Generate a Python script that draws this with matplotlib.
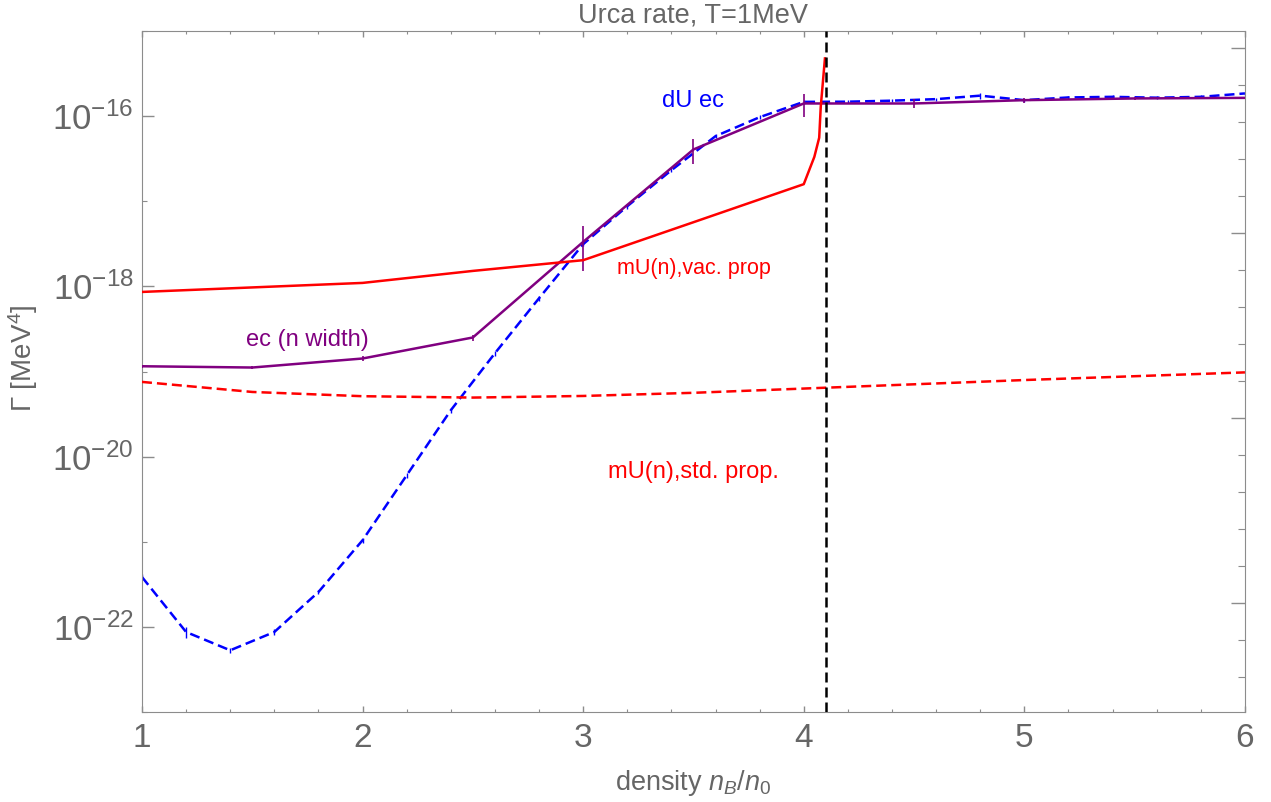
import matplotlib.pyplot as plt
import matplotlib.ticker as ticker
import numpy as np

plt.rcParams['font.family'] = ['Liberation Sans', 'DejaVu Sans']
plt.rcParams['mathtext.fontset'] = 'custom'
plt.rcParams['mathtext.rm'] = 'Liberation Sans'
plt.rcParams['mathtext.it'] = 'Liberation Sans:italic'
plt.rcParams['mathtext.bf'] = 'Liberation Sans:bold'

# log10 of the rates
x_ec = [1, 1.5, 2, 2.5, 3, 3.5, 4, 4.5, 5, 5.5, 6]
log_ec = [-18.938, -18.953, -18.847, -18.600, -17.477, -16.391, -15.851, -15.851, -15.812, -15.792, -15.785]
err_ec = [0.04, 0.04, 0.06, 0.08, 0.55, 0.33, 0.30, 0.12, 0.07, 0.03, 0.03]

x_du = [1, 1.2, 1.4, 1.6, 1.8, 2, 2.2, 2.4, 2.6, 2.8, 3, 3.2, 3.4, 3.6, 3.8,
        4, 4.2, 4.4, 4.6, 4.8, 5, 5.2, 5.4, 5.6, 5.8, 6]
log_du = [-21.414, -22.060, -22.275, -22.060, -21.590, -20.982, -20.219, -19.455,
          -18.785, -18.139, -17.504, -17.058, -16.635, -16.235, -16.012, -15.832,
          -15.830, -15.818, -15.800, -15.759, -15.812, -15.780, -15.773, -15.783,
          -15.773, -15.733]
err_du = [0.08, 0.15, 0.06, 0.08, 0.06, 0.06, 0.06, 0.06, 0.06, 0.06, 0.06, 0.06, 0.06,
          0.06, 0.06, 0.06, 0.04, 0.04, 0.04, 0.08, 0.04, 0.04, 0.04, 0.04, 0.04, 0.04]

x_vac = [1, 2, 2.5, 3, 3.5, 4, 4.048, 4.070, 4.077, 4.096]
log_vac = [-18.065, -17.959, -17.818, -17.692, -17.246, -16.799, -16.478, -16.253, -15.891, -15.322]

x_std = [1, 1.5, 2, 2.5, 3, 3.5, 4, 4.5, 5, 5.5, 6]
log_std = [-19.122, -19.240, -19.290, -19.306, -19.287, -19.250, -19.200, -19.150, -19.100, -19.055, -19.010]

x_du_onset = 4.1

y_major = [1e-22, 1e-20, 1e-18, 1e-16]
y_minor = [1e-23, 1e-21, 1e-19, 1e-17, 1e-15]

gray = '#666666'
spine = '#8c8c8c'
purple = (0.5, 0, 0.5)

ec = 10.0 ** np.array(log_ec)
du = 10.0 ** np.array(log_du)
vac = 10.0 ** np.array(log_vac)
std = 10.0 ** np.array(log_std)

fig = plt.figure(figsize=(12.71, 8.02), dpi=100)
ax = fig.add_axes([0.1117, 0.1122, 0.8678, 0.8491])

ax.errorbar(x_du, du, yerr=du * np.array(err_du), color='blue', lw=1.8,
            ls=(0, (4, 2)), elinewidth=1.0, capsize=0, zorder=2)
ax.errorbar(x_ec, ec, yerr=ec * np.array(err_ec), color=purple, lw=1.8,
            elinewidth=1.2, capsize=0, zorder=3)
ax.plot(x_std, std, color='red', lw=1.8, ls=(0, (4, 2)), zorder=4)
ax.plot(x_vac, vac, color='red', lw=1.8, zorder=5)
ax.axvline(x_du_onset, color='black', lw=1.8, ls=(0, (4, 2)), zorder=6)

ax.set_yscale('log')
ax.set_xlim(1, 6)
ax.set_ylim(1e-23, 1e-15)

ax.yaxis.set_major_locator(ticker.FixedLocator(y_major))
ax.yaxis.set_minor_locator(ticker.FixedLocator(y_minor))
ax.yaxis.set_major_formatter(ticker.FuncFormatter(
    lambda v, p: r'$10^{%d}$' % round(np.log10(v))))
ax.yaxis.set_minor_formatter(ticker.NullFormatter())
ax.xaxis.set_major_locator(ticker.MultipleLocator(1))
ax.xaxis.set_minor_locator(ticker.MultipleLocator(0.2))

ax.tick_params(axis='x', which='both', direction='in', top=True, bottom=True,
               colors=spine, labelcolor=gray, labelsize=24, pad=8)
ax.tick_params(axis='x', which='major', length=4.5, width=1)
ax.tick_params(axis='x', which='minor', length=2.3, width=0.8)
ax.tick_params(axis='y', which='both', direction='in', left=True, right=False,
               colors=spine, labelcolor=gray, labelsize=25, pad=6)
ax.tick_params(axis='y', which='major', length=8.5, width=1)
ax.tick_params(axis='y', which='minor', length=3.8, width=0.8)
for s in ax.spines.values():
    s.set_color(spine)

# unlabelled frame ticks on the right edge
ax2 = ax.twinx()
ax2.set_ylim(-0.589, 3.093)
ax2.yaxis.set_major_locator(ticker.MultipleLocator(1))
ax2.yaxis.set_minor_locator(ticker.MultipleLocator(0.2))
ax2.tick_params(axis='y', which='both', direction='in', colors=spine, labelright=False)
ax2.tick_params(axis='y', which='major', length=10, width=1)
ax2.tick_params(axis='y', which='minor', length=4.8, width=0.8)
for s in ax2.spines.values():
    s.set_visible(False)

ax.set_title('Urca rate, T=1MeV', color=gray, fontsize=19.5, pad=6)
ax.set_xlabel(r'density $n_B/n_0$', color=gray, fontsize=19.5, labelpad=10)
ax.set_ylabel(r'$\Gamma$ [MeV$^4$]', color=gray, fontsize=20)
ax.yaxis.set_label_coords(-0.092, 0.52)

ax.text(3.5, 10 ** -15.824, 'dU ec', color='blue', fontsize=17, ha='center', va='center')
ax.text(3.5, 10 ** -17.786, 'mU(n),vac. prop', color='red', fontsize=15.5, ha='center', va='center')
ax.text(3.5, 10 ** -20.18, 'mU(n),std. prop.', color='red', fontsize=17, ha='center', va='center')
ax.text(1.75, 10 ** -18.632, 'ec (n width)', color=purple, fontsize=17, ha='center', va='center')

fig.savefig('out.png', dpi=100)
